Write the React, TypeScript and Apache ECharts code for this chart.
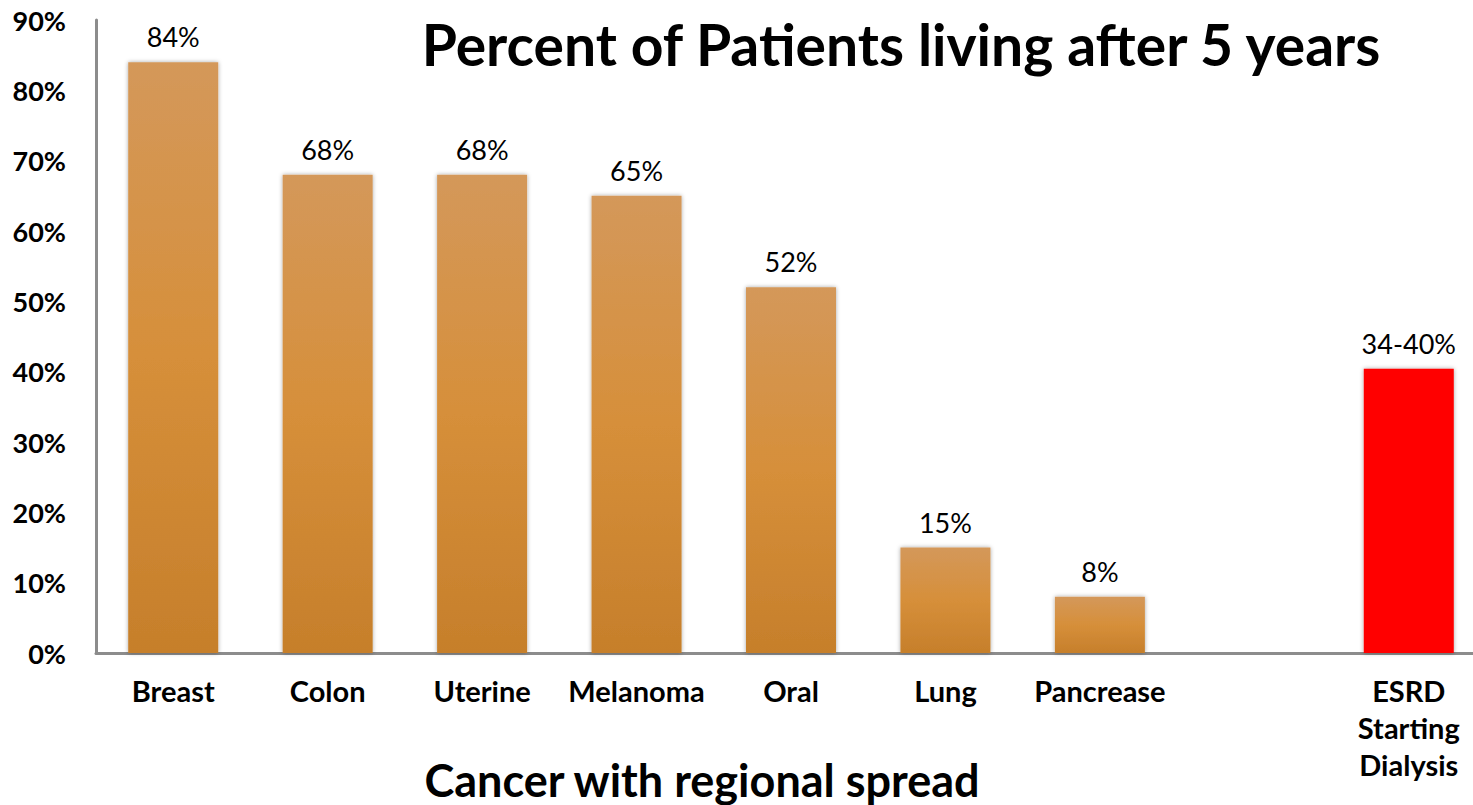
import React, { useEffect, useRef } from "react";
import * as echarts from "echarts";

const categories = ["Breast", "Colon", "Uterine", "Melanoma", "Oral", "Lung", "Pancrease", "", "ESRD\nStarting\nDialysis"];
const values: (number | null)[] = [84, 68, 68, 65, 52, 15, 8, null, 40.4];
const valueLabels = ["84%", "68%", "68%", "65%", "52%", "15%", "8%", "", "34-40%"];
const highlightIndex = 8;
const yTicks = { min: 0, max: 90, interval: 10 };
const titleText = "Percent of Patients living after 5 years";
const xAxisTitle = "Cancer with regional spread";

export default function App() {
  const ref = useRef<HTMLDivElement>(null);
  useEffect(() => {
    if (!ref.current) return;
    const chart = echarts.init(ref.current, undefined, { renderer: "svg" });
    const orange = new echarts.graphic.LinearGradient(0, 0, 0, 1, [
      { offset: 0, color: "rgb(212,152,90)" },
      { offset: 0.5, color: "rgb(214,143,58)" },
      { offset: 1, color: "rgb(198,127,43)" },
    ]);
    chart.setOption({
      animation: false,
      backgroundColor: "#ffffff",
      textStyle: { fontFamily: "Lato" },
      title: [
        {
          text: titleText,
          left: 896,
          top: 10,
          textAlign: "center",
          textStyle: { fontFamily: "Lato", fontWeight: "bold", fontSize: 57, color: "#000" },
        },
        {
          text: xAxisTitle,
          left: 697,
          top: 752,
          textAlign: "center",
          textStyle: { fontFamily: "Lato", fontWeight: "bold", fontSize: 45, color: "#000" },
        },
      ],
      grid: { left: 96, right: 14, top: 20, bottom: 152, containLabel: false },
      xAxis: {
        type: "category",
        data: categories,
        axisLine: { show: true, lineStyle: { color: "#8c8c8c", width: 3 } },
        axisTick: { show: false },
        axisLabel: {
          interval: 0,
          margin: 19,
          fontFamily: "Lato",
          fontWeight: "bold",
          fontSize: 29,
          color: "#000",
          lineHeight: 37,
          verticalAlign: "top",
        },
      },
      yAxis: {
        type: "value",
        min: yTicks.min,
        max: yTicks.max,
        interval: yTicks.interval,
        axisLine: { show: true, lineStyle: { color: "#8c8c8c", width: 3 } },
        axisTick: { show: false },
        splitLine: { show: false },
        axisLabel: {
          formatter: "{value}%",
          margin: 30,
          fontFamily: "Lato",
          fontWeight: "bold",
          fontSize: 27,
          color: "#000",
        },
      },
      series: [
        {
          type: "bar",
          barWidth: 90,
          data: values.map((v, i) => ({
            value: v,
            itemStyle: {
              color: i === highlightIndex ? "#ff0000" : orange,
              shadowBlur: 4,
              shadowColor: "rgba(0,0,0,0.35)",
            },
          })),
          label: {
            show: true,
            position: "top",
            distance: 12,
            fontFamily: "Lato",
            fontSize: 27,
            color: "#000",
            formatter: (p: any) => valueLabels[p.dataIndex],
          },
        },
      ],
    });
    return () => chart.dispose();
  }, []);
  return (
    <div style={{ position: "fixed", left: 0, top: 0, width: 1473, height: 805, overflow: "hidden", background: "#fff" }}>
      <div ref={ref} style={{ position: "absolute", left: 0, top: 0, width: 1500, height: 805 }} />
    </div>
  );
}
